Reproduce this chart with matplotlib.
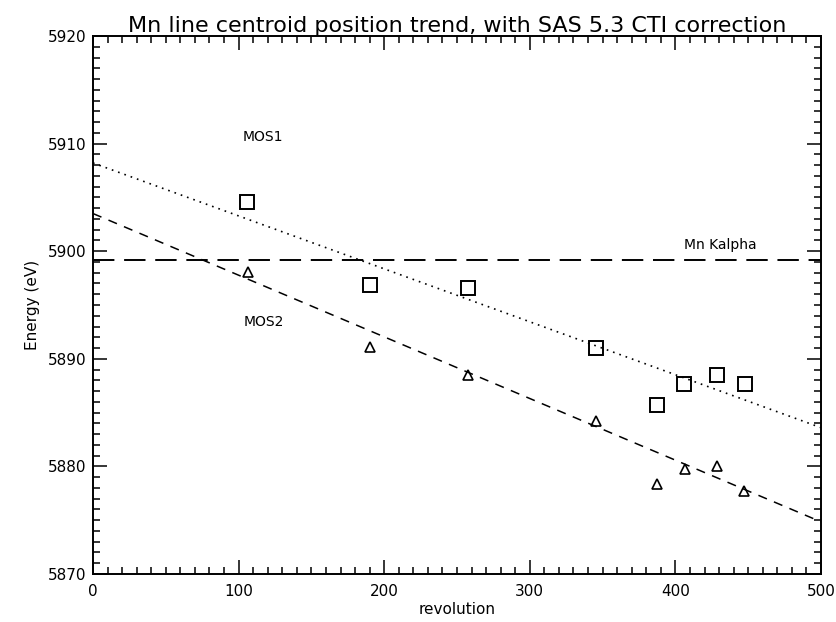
import numpy as np
import matplotlib
matplotlib.use("Agg")
import matplotlib.pyplot as plt
from matplotlib.ticker import MultipleLocator

# Line centroid measurements per revolution
mos1_rev = [106.0, 190.5, 257.8, 345.2, 387.6, 406.1, 428.4, 447.5]
mos1_energy = [5904.6, 5896.9, 5896.6, 5891.0, 5885.7, 5887.7, 5888.5, 5887.7]

mos2_rev = [106.2, 190.5, 257.8, 345.2, 387.6, 406.6, 428.4, 447.1]
mos2_energy = [5898.1, 5891.1, 5888.5, 5884.2, 5878.4, 5879.8, 5880.0, 5877.7]

# Linear trends (intercept at revolution 0, slope in eV per revolution)
mos1_fit = (5908.2, -0.0492)
mos2_fit = (5903.5, -0.0573)

mn_kalpha = 5899.2

fig = plt.figure(figsize=(8.37, 6.22), dpi=100)
ax = fig.add_axes([93 / 837, 1 - 574 / 622, 728 / 837, 538 / 622])

xfit = np.array([0.0, 500.0])
ax.plot(xfit, mos1_fit[0] + mos1_fit[1] * xfit, color="black", lw=1.2,
        linestyle=(0, (1, 3)))
ax.plot(xfit, mos2_fit[0] + mos2_fit[1] * xfit, color="black", lw=1.1,
        linestyle=(0, (6, 5)))
ax.plot(xfit, [mn_kalpha, mn_kalpha], color="black", lw=1.4,
        linestyle=(0, (11, 5)))

ax.plot(mos1_rev, mos1_energy, linestyle="none", marker="s", ms=10,
        mfc="none", mec="black", mew=1.4)
ax.plot(mos2_rev, mos2_energy, linestyle="none", marker="^", ms=7.5,
        mfc="none", mec="black", mew=1.2)

ax.text(117, 5910.6, "MOS1", ha="center", va="center", fontsize=10)
ax.text(117, 5893.4, "MOS2", ha="center", va="center", fontsize=10)
ax.text(431, 5900.6, "Mn Kalpha", ha="center", va="center", fontsize=10)

ax.set_xlim(0, 500)
ax.set_ylim(5870, 5920)
ax.xaxis.set_major_locator(MultipleLocator(100))
ax.xaxis.set_minor_locator(MultipleLocator(10))
ax.yaxis.set_major_locator(MultipleLocator(10))
ax.yaxis.set_minor_locator(MultipleLocator(1))
ax.tick_params(which="both", direction="in", top=True, right=True,
               labelsize=11, width=1.1)
ax.tick_params(which="major", length=10)
ax.tick_params(which="minor", length=5)
ax.tick_params(axis="x", which="major", pad=7)
ax.tick_params(axis="y", which="major", pad=5)
for s in ax.spines.values():
    s.set_linewidth(1.4)

ax.set_xlabel("revolution", fontsize=11, labelpad=2)
ax.set_ylabel("Energy (eV)", fontsize=11, labelpad=5)
ax.set_title("Mn line centroid position trend, with SAS 5.3 CTI correction",
             fontsize=16, pad=2)

fig.savefig("out.png", dpi=100)
